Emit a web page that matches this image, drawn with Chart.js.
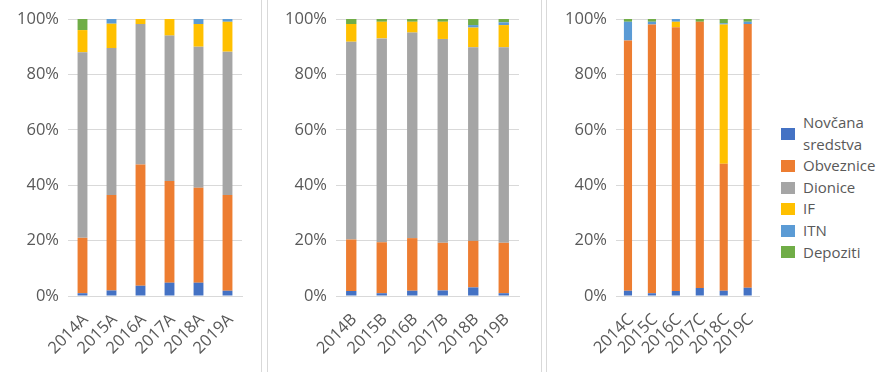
<!DOCTYPE html>
<html>
<head>
<meta charset="utf-8">
<script src="https://cdn.jsdelivr.net/npm/chart.js@4/dist/chart.umd.min.js"></script>
<style>
  html, body { margin: 0; padding: 0; background: #fff; }
  body { width: 891px; height: 372px; position: relative; overflow: hidden; font-family: "Open Sans", sans-serif; }
  .panel { position: absolute; top: 0; height: 372px; }
  #p1 { left: 0; width: 261px; border-right: 1px solid #d9d9d9; }
  #p2 { left: 267px; width: 273px; border-left: 1px solid #d9d9d9; border-right: 1px solid #d9d9d9; }
  #p3 { left: 546px; width: 230px; border-left: 1px solid #d9d9d9; }
  #legend { position: absolute; left: 781px; top: 112px; color: #595959; font-size: 15px; line-height: 21.6px; }
  .item { display: flex; align-items: center; }
  .box { width: 14px; height: 12px; margin-right: 8px; flex: none; }
  .txt { width: 85px; }
</style>
</head>
<body>
<div class="panel" id="p1"><canvas id="c1"></canvas></div>
<div class="panel" id="p2"><canvas id="c2"></canvas></div>
<div class="panel" id="p3"><canvas id="c3"></canvas></div>
<div id="legend"></div>
<script>
// series names and colours
var seriesNames = ['Novčana sredstva', 'Obveznice', 'Dionice', 'IF', 'ITN', 'Depoziti'];
var seriesColors = ['#4472C4', '#ED7D31', '#A5A5A5', '#FFC000', '#5B9BD5', '#70AD47'];

// panel A
var catsA = ['2014A', '2015A', '2016A', '2017A', '2018A', '2019A'];
var novcanaA = [1, 2, 3.7, 4.8, 4.8, 1.9];
var obvezniceA = [20, 34.5, 43.8, 36.7, 34.3, 34.6];
var dioniceA = [67, 53, 50.7, 52.5, 50.9, 51.7];
var ifA = [8, 8.8, 1.8, 6, 8.2, 10.8];
var itnA = [0, 1.8, 0, 0, 1.8, 1];
var depozitiA = [4, 0, 0, 0, 0, 0];

// panel B
var catsB = ['2014B', '2015B', '2016B', '2017B', '2018B', '2019B'];
var novcanaB = [1.8, 1, 1.9, 2, 3.1, 1];
var obvezniceB = [18.6, 18.4, 19, 17.2, 16.8, 18.2];
var dioniceB = [71.4, 73.6, 74.2, 73.6, 69.9, 70.6];
var ifB = [6.4, 6, 3.9, 6.2, 7.1, 8];
var itnB = [0, 0, 0, 0, 0.9, 1];
var depozitiB = [1.8, 1, 1, 1, 2.2, 1.2];

// panel C
var catsC = ['2014C', '2015C', '2016C', '2017C', '2018C', '2019C'];
var novcanaC = [1.9, 1, 1.8, 2.9, 1.9, 3];
var obvezniceC = [90.3, 97, 95.2, 96.1, 45.8, 95.2];
var dioniceC = [0, 0, 0, 0, 0, 0];
var ifC = [0, 0, 2, 0, 50.3, 0];
var itnC = [6.8, 1, 1, 0, 0.5, 0.8];
var depozitiC = [1, 1, 0, 1, 1.5, 1];

var tickColor = '#595959';
var gridColor = '#d9d9d9';
var tickFont = { family: '"Open Sans", sans-serif', size: 16.5 };

function makeChart(id, w, cats, rows, yWidth, padRight) {
  var el = document.getElementById(id);
  el.style.width = w + 'px';
  el.style.height = '372px';
  var datasets = [];
  for (var i = 0; i < rows.length; i++) {
    datasets.push({
      label: seriesNames[i],
      data: rows[i],
      backgroundColor: seriesColors[i],
      barPercentage: 0.34,
      categoryPercentage: 1
    });
  }
  return new Chart(el, {
    type: 'bar',
    data: { labels: cats, datasets: datasets },
    options: {
      responsive: false,
      animation: false,
      layout: { padding: { left: 0, right: padRight, top: 19, bottom: 0 } },
      plugins: { legend: { display: false }, tooltip: { enabled: false } },
      scales: {
        x: {
          stacked: true,
          grid: { display: false, drawTicks: false },
          border: { display: true, color: gridColor },
          ticks: { color: tickColor, font: tickFont, minRotation: 45, maxRotation: 45, autoSkip: false, padding: 14, labelOffset: 3 },
          afterFit: function(s) { s.height = 76; }
        },
        y: {
          stacked: true,
          min: 0,
          max: 100,
          grid: { color: gridColor, drawTicks: false },
          border: { display: false },
          ticks: {
            stepSize: 20,
            color: tickColor,
            font: tickFont,
            padding: 9,
            callback: function(v) { return v + '%'; }
          },
          afterFit: function(s) { s.width = yWidth; }
        }
      }
    }
  });
}

makeChart('c1', 261, catsA, [novcanaA, obvezniceA, dioniceA, ifA, itnA, depozitiA], 68, 19);
makeChart('c2', 273, catsB, [novcanaB, obvezniceB, dioniceB, ifB, itnB, depozitiB], 68, 22);
makeChart('c3', 230, catsC, [novcanaC, obvezniceC, dioniceC, ifC, itnC, depozitiC], 69, 16);

// legend
var leg = document.getElementById('legend');
for (var i = 0; i < seriesNames.length; i++) {
  var row = document.createElement('div');
  row.className = 'item';
  var box = document.createElement('div');
  box.className = 'box';
  box.style.background = seriesColors[i];
  var txt = document.createElement('div');
  txt.className = 'txt';
  txt.textContent = seriesNames[i];
  row.appendChild(box);
  row.appendChild(txt);
  leg.appendChild(row);
}
</script>
</body>
</html>
